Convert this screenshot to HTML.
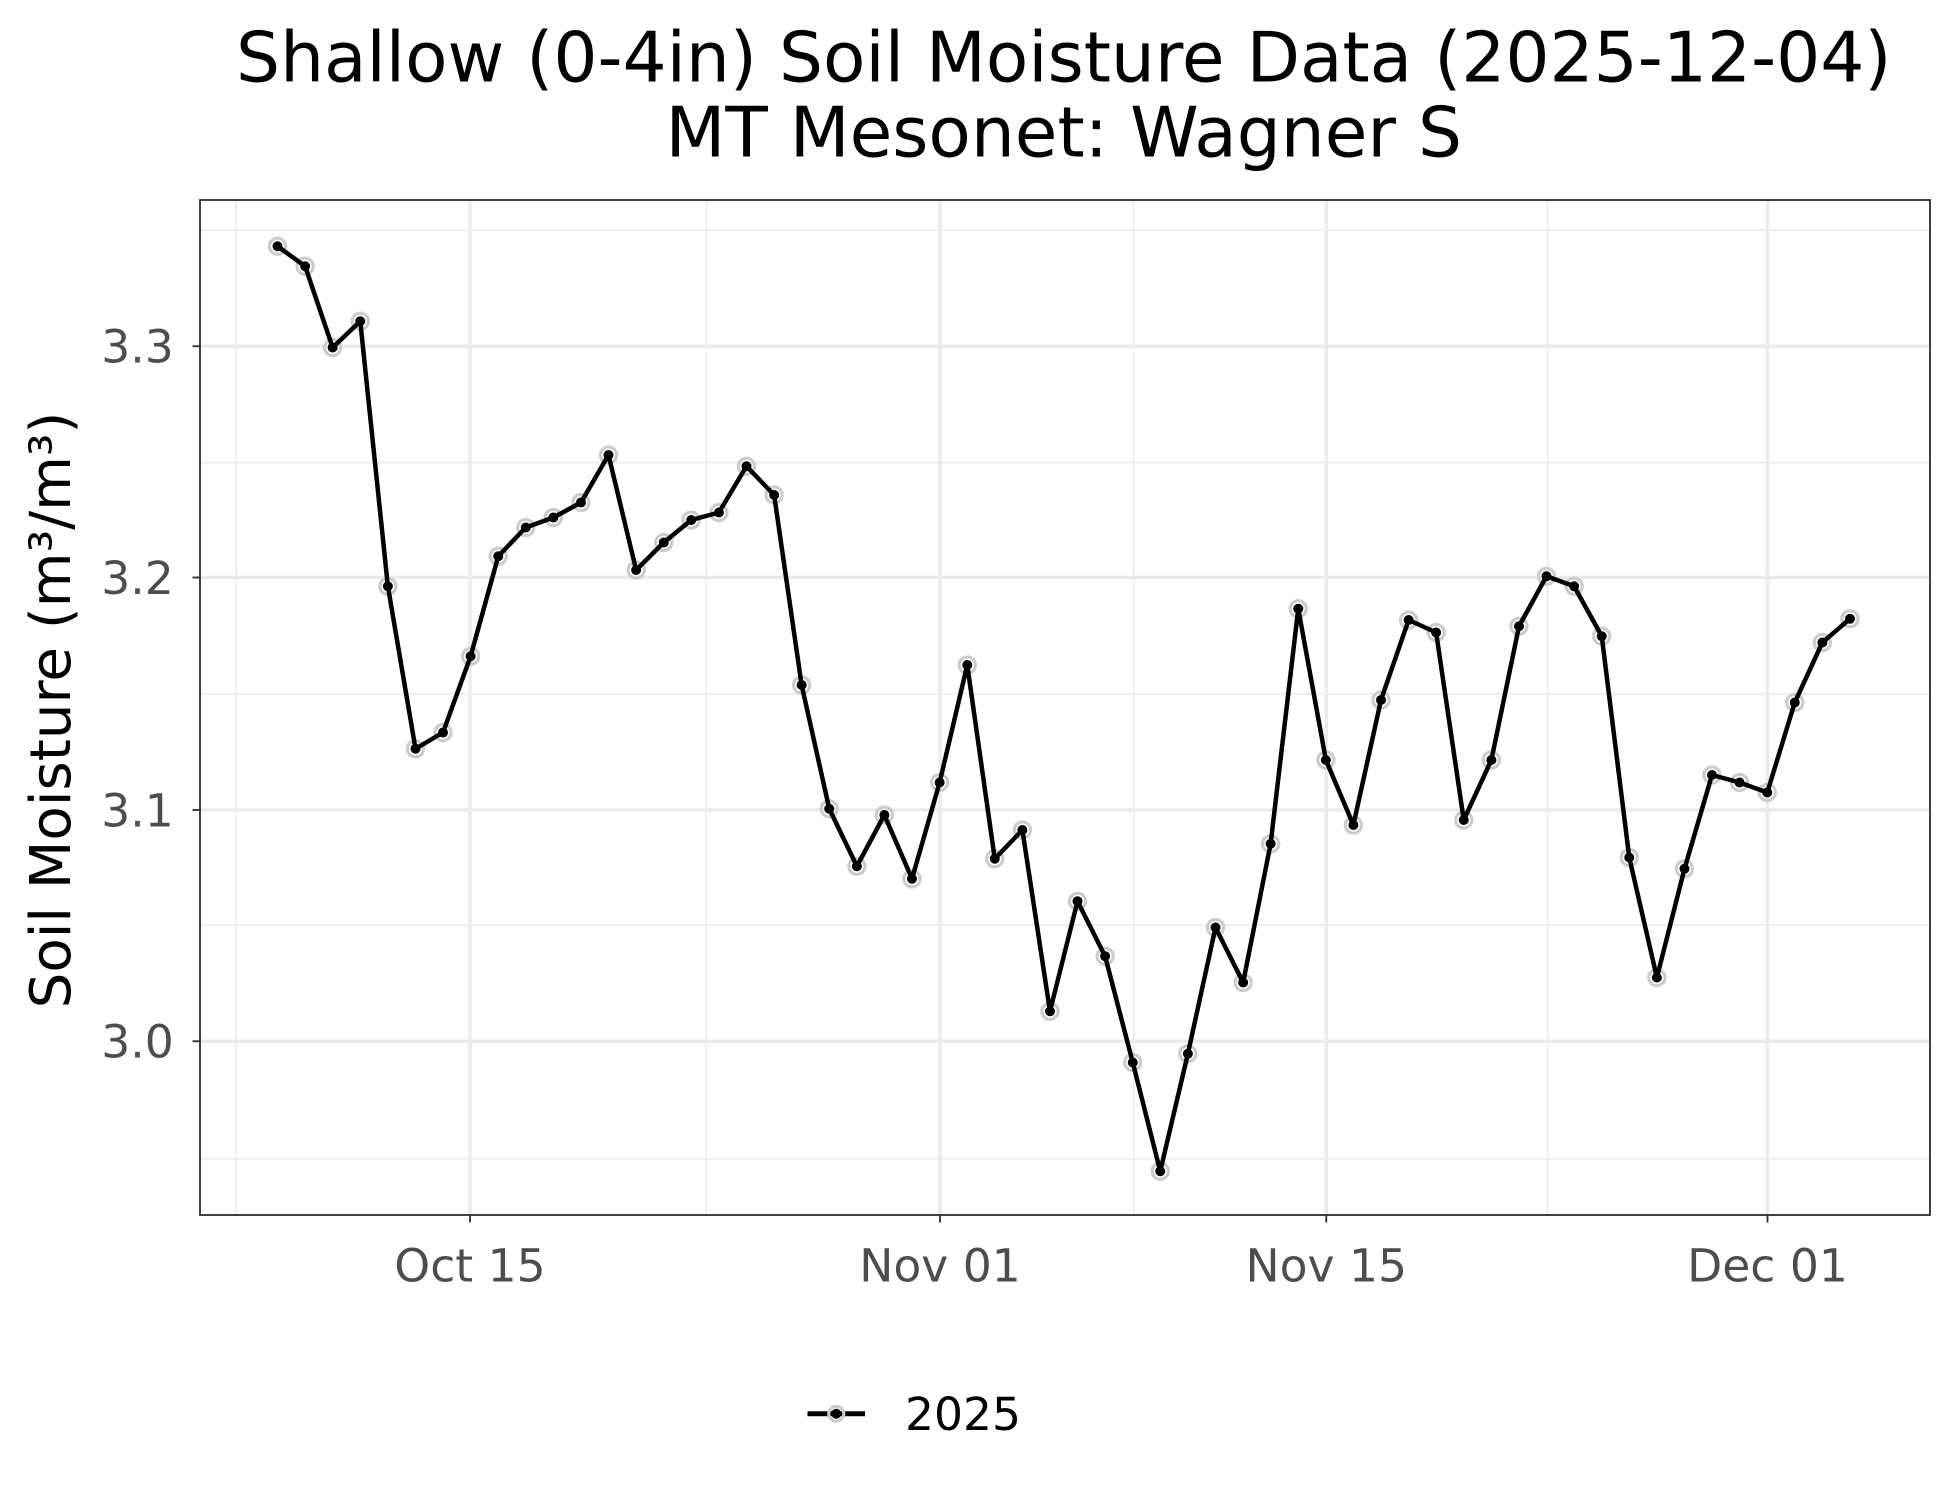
<!DOCTYPE html>
<html><head><meta charset="utf-8"><style>
html,body{margin:0;padding:0;background:#fff;}
svg{display:block;}
text{font-family:"DejaVu Sans","Liberation Sans",sans-serif;}
</style></head><body>
<svg id="s" width="1950" height="1500" viewBox="0 0 1560 1200" xmlns="http://www.w3.org/2000/svg">
<rect width="1560" height="1200" fill="#fff"/>
<text x="851" y="65" font-size="55.5" text-anchor="middle" fill="#000">Shallow (0-4in) Soil Moisture Data (2025-12-04)</text>
<text x="851" y="125" font-size="55.5" text-anchor="middle" fill="#000">MT Mesonet: Wagner S</text>
<g stroke="#ebebeb" stroke-width="1.3">
<line x1="160" x2="1544" y1="184" y2="184"/><line x1="160" x2="1544" y1="370" y2="370"/><line x1="160" x2="1544" y1="555" y2="555"/><line x1="160" x2="1544" y1="740" y2="740"/><line x1="160" x2="1544" y1="927" y2="927"/>
<line y1="160" y2="972" x1="189" x2="189"/><line y1="160" y2="972" x1="565" x2="565"/><line y1="160" y2="972" x1="907" x2="907"/><line y1="160" y2="972" x1="1238" x2="1238"/>
</g>
<g stroke="#ebebeb" stroke-width="2.8">
<line x1="160" x2="1544" y1="277" y2="277"/><line x1="160" x2="1544" y1="462" y2="462"/><line x1="160" x2="1544" y1="648" y2="648"/><line x1="160" x2="1544" y1="833" y2="833"/>
<line y1="160" y2="972" x1="376" x2="376"/><line y1="160" y2="972" x1="752" x2="752"/><line y1="160" y2="972" x1="1061" x2="1061"/><line y1="160" y2="972" x1="1414" x2="1414"/>
</g>
<g id="data"></g>
<rect x="160" y="160" width="1384" height="812" fill="none" stroke="#333" stroke-width="1.5"/>
<g stroke="#333" stroke-width="1.5">
<line x1="154" x2="160" y1="277" y2="277"/><line x1="154" x2="160" y1="462" y2="462"/><line x1="154" x2="160" y1="648" y2="648"/><line x1="154" x2="160" y1="833" y2="833"/>
<line y1="972" y2="978" x1="376" x2="376"/><line y1="972" y2="978" x1="752" x2="752"/><line y1="972" y2="978" x1="1061" x2="1061"/><line y1="972" y2="978" x1="1414" x2="1414"/>
</g>
<g font-size="36.5" fill="#4d4d4d" text-anchor="end">
<text x="139" y="290">3.3</text><text x="139" y="475">3.2</text><text x="139" y="661">3.1</text><text x="139" y="846">3.0</text>
</g>
<g font-size="36.5" fill="#4d4d4d" text-anchor="middle">
<text x="376" y="1025">Oct 15</text><text x="752" y="1025">Nov 01</text><text x="1061" y="1025">Nov 15</text><text x="1414" y="1025">Dec 01</text>
</g>
<text transform="translate(56,568) rotate(-90)" font-size="45" text-anchor="middle" fill="#000">Soil Moisture (m³/m³)</text>
<line x1="646" x2="692" y1="1131" y2="1131" stroke="#000" stroke-width="4"/>
<circle cx="669" cy="1131" r="6" fill="none" stroke="#ccc" stroke-width="2.5"/>
<circle cx="669" cy="1131" r="4" fill="#000"/>
<text x="724" y="1144" font-size="36.5" fill="#000">2025</text>
</svg>
<script>
var ys=[197,213,278,257,469,599,586,525,445,422,414,402,364,456,434,416,410,373,396,548,647,693,652,703,626,532,687,664,809,721,765,850,937,843,742,786,675,487,608,660,560,496,506,656,608,501,461,469,509,686,782,695,620,626,634,562,514,495];
var g=document.getElementById('data'),pts=[],h='';
ys.forEach(function(y,i){var x=222+22.07*i;pts.push(x.toFixed(1)+','+y);h+='<circle cx="'+x.toFixed(1)+'" cy="'+y+'" r="6.5" fill="none" stroke="#ccc" stroke-width="2.5"/>';});
h+='<polyline points="'+pts.join(' ')+'" fill="none" stroke="#000" stroke-width="3.6" stroke-linejoin="round"/>';
pts.forEach(function(p){var a=p.split(',');h+='<circle cx="'+a[0]+'" cy="'+a[1]+'" r="4" fill="#000"/>';});
g.innerHTML=h;
</script>
</body></html>
